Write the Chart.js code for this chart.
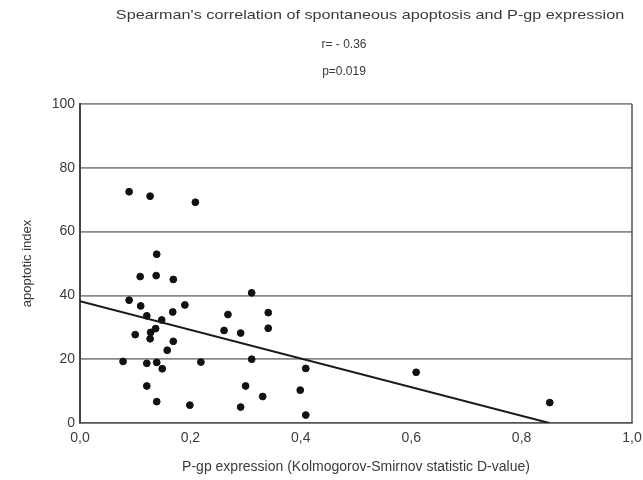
<!DOCTYPE html>
<html>
<head>
<meta charset="utf-8">
<script src="https://cdn.jsdelivr.net/npm/chart.js@4.4.1/dist/chart.umd.min.js"></script>
<style>
  html, body { margin: 0; padding: 0; background: #fff; }
  #wrap { width: 643px; height: 480px; position: relative; }
</style>
</head>
<body>
<div id="wrap"><canvas id="chart"></canvas></div>
<script>
  // values
  var titleLines = ["Spearman's correlation of spontaneous apoptosis and P-gp expression", 'r= - 0.36', 'p=0.019'];
  var xTitle = 'P-gp expression (Kolmogorov-Smirnov statistic D-value)';
  var yTitle = 'apoptotic index';

  var pgpValues = [0.089, 0.127, 0.209, 0.139, 0.109, 0.138, 0.169, 0.089, 0.110, 0.190,
    0.168, 0.121, 0.148, 0.137, 0.128, 0.100, 0.127, 0.169, 0.158, 0.268,
    0.261, 0.078, 0.121, 0.139, 0.149, 0.219, 0.121, 0.139, 0.199, 0.311,
    0.341, 0.291, 0.341, 0.311, 0.409, 0.300, 0.399, 0.331, 0.291, 0.409,
    0.609, 0.851];
  var apoptoticIndex = [72.5, 71.1, 69.2, 52.9, 45.9, 46.2, 45.0, 38.5, 36.7, 37.0,
    34.8, 33.6, 32.3, 29.6, 28.4, 27.7, 26.4, 25.6, 22.8, 34.0,
    29.0, 19.3, 18.7, 19.0, 17.0, 19.1, 11.6, 6.7, 5.6, 40.8,
    34.6, 28.2, 29.7, 20.0, 17.1, 11.6, 10.3, 8.3, 5.0, 2.5,
    15.9, 6.4];

  // fitted regression line end points
  var fitX = [0, 0.85];
  var fitY = [38.2, 0];

  var xTicks = [0, 0.2, 0.4, 0.6, 0.8, 1.0];
  var yTicks = [0, 20, 40, 60, 80, 100];

  var TEXT = '#3a3a3a';
  var FONT = '"Liberation Sans", Arial, sans-serif';

  var points = pgpValues.map(function (x, i) { return { x: x, y: apoptoticIndex[i] }; });
  var fit = fitX.map(function (x, i) { return { x: x, y: fitY[i] }; });

  // header text (scan is slightly stretched sideways) and right frame edge
  var decor = {
    id: 'decor',
    afterDraw: function (chart) {
      var ctx = chart.ctx, a = chart.chartArea;
      ctx.save();
      ctx.strokeStyle = '#555';
      ctx.lineWidth = 1.5;
      ctx.beginPath();
      ctx.moveTo(a.right, a.top);
      ctx.lineTo(a.right, a.bottom);
      ctx.stroke();
      ctx.fillStyle = TEXT;
      ctx.textAlign = 'center';
      ctx.textBaseline = 'middle';
      ctx.save();
      ctx.translate(370, 15);
      ctx.scale(1.2, 1);
      ctx.font = '13.5px ' + FONT;
      ctx.fillText(titleLines[0], 0, 0);
      ctx.restore();
      ctx.font = '12px ' + FONT;
      ctx.fillText(titleLines[1], 344, 45);
      ctx.fillText(titleLines[2], 344, 72);
      ctx.restore();
    }
  };

  new Chart(document.getElementById('chart'), {
    type: 'scatter',
    data: {
      datasets: [
        { label: 'cases', data: points, backgroundColor: '#111', borderColor: '#111',
          pointRadius: 3.4, pointHoverRadius: 3.4, order: 2 },
        { type: 'line', label: 'fit', data: fit, borderColor: '#1a1a1a', borderWidth: 2,
          pointRadius: 0, fill: false, tension: 0, order: 1 }
      ]
    },
    options: {
      responsive: true,
      maintainAspectRatio: false,
      animation: false,
      layout: { padding: { top: 104, right: 11, left: 16, bottom: 0 } },
      plugins: { legend: { display: false }, tooltip: { enabled: false } },
      scales: {
        x: {
          type: 'linear', min: 0, max: 1,
          afterBuildTicks: function (s) { s.ticks = xTicks.map(function (v) { return { value: v }; }); },
          afterFit: function (s) { s.height = 57; s.paddingLeft = 0; s.paddingRight = 0; },
          grid: { display: false, drawTicks: false },
          border: { display: true, color: '#555', width: 1.5 },
          ticks: {
            color: TEXT, padding: 7, maxRotation: 0, autoSkip: false,
            font: { family: FONT, size: 14 },
            callback: function (v) { return v.toFixed(1).replace('.', ','); }
          },
          title: { display: true, text: xTitle, color: TEXT, font: { family: FONT, size: 14 }, padding: { top: 8 } }
        },
        y: {
          type: 'linear', min: 0, max: 100,
          afterBuildTicks: function (s) { s.ticks = yTicks.map(function (v) { return { value: v }; }); },
          afterFit: function (s) { s.width = 64; },
          grid: { color: '#888', lineWidth: 1.7, drawTicks: false },
          border: { display: true, color: '#444', width: 2 },
          ticks: { color: TEXT, padding: 5, font: { family: FONT, size: 14 } },
          title: { display: true, text: yTitle, color: TEXT, font: { family: FONT, size: 13 }, padding: { bottom: 4 } }
        }
      }
    },
    plugins: [decor]
  });
</script>
</body>
</html>
